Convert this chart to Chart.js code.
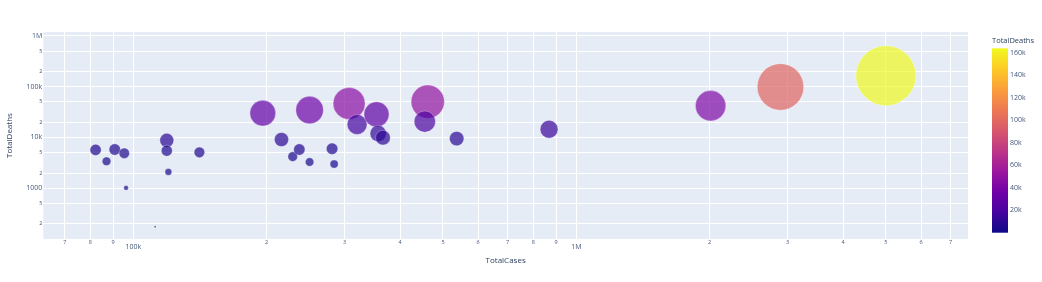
<!DOCTYPE html>
<html>
<head>
<meta charset="utf-8">
<script src="https://cdn.jsdelivr.net/npm/chart.js@4"></script>
<style>
  html, body { margin: 0; padding: 0; background: #fff; }
  canvas { display: block; }
</style>
</head>
<body>
<canvas id="chartBolhas" width="1042" height="282"></canvas>
<script>
// Dados (casos totais x mortes totais)
const totalCases = [82200, 87000, 90800, 95400, 96300, 112000, 119000, 119000, 120000, 141000,
    196000, 216000, 229000, 237000, 250000, 250000, 281000, 284000, 307000, 320000,
    354000, 357000, 366000, 462000, 455000, 537000, 868000, 2010000, 2890000, 5000000];
const totalDeaths = [5700, 3400, 5800, 4900, 1020, 175, 8800, 5500, 2100, 5100,
    30000, 9100, 4200, 5800, 34500, 3300, 6000, 3000, 46500, 18000,
    28500, 12000, 9900, 50500, 20500, 9500, 14500, 42000, 98500, 164000];

// Ticks dos eixos (valores e rótulos)
const xTickValues = [7e4, 8e4, 9e4, 1e5, 2e5, 3e5, 4e5, 5e5, 6e5, 7e5, 8e5, 9e5, 1e6, 2e6, 3e6, 4e6, 5e6, 6e6, 7e6];
const xTickLabels = ['7', '8', '9', '100k', '2', '3', '4', '5', '6', '7', '8', '9', '1M', '2', '3', '4', '5', '6', '7'];
const yTickValues = [200, 500, 1000, 2000, 5000, 1e4, 2e4, 5e4, 1e5, 2e5, 5e5, 1e6];
const yTickLabels = ['2', '5', '1000', '2', '5', '10k', '2', '5', '100k', '2', '5', '1M'];
const colorbarTicks = [20000, 40000, 60000, 80000, 100000, 120000, 140000, 160000];
const colorbarLabels = ['20k', '40k', '60k', '80k', '100k', '120k', '140k', '160k'];

const X_MIN = 62630, X_MAX = 7660000, Y_MIN = 101, Y_MAX = 1183000;
const MAX_RADIUS = 30;
const FONTE = '"Open Sans", verdana, arial, sans-serif';
const COR_TEXTO = '#2a3f5f';
const COR_TICKS = '#44577a';

// Escala de cores "plasma" (mesma do plotly)
const plasma = ['#0d0887', '#46039f', '#7201a8', '#9c179e', '#bd3786', '#d8576b', '#ed7953', '#fb9f3a', '#fdca26', '#f0f921'];
const minDeaths = Math.min(...totalDeaths), maxDeaths = Math.max(...totalDeaths);

function hexToRgb(h) {
    return [parseInt(h.slice(1, 3), 16), parseInt(h.slice(3, 5), 16), parseInt(h.slice(5, 7), 16)];
}

function corPlasma(t, alpha) {
    t = Math.max(0, Math.min(1, t));
    const pos = t * (plasma.length - 1);
    const i = Math.min(Math.floor(pos), plasma.length - 2);
    const f = pos - i;
    const a = hexToRgb(plasma[i]), b = hexToRgb(plasma[i + 1]);
    const c = a.map((v, k) => Math.round(v + (b[k] - v) * f));
    return `rgba(${c[0]}, ${c[1]}, ${c[2]}, ${alpha})`;
}

function normaliza(v) {
    return (v - minDeaths) / (maxDeaths - minDeaths);
}

// Pontos: tamanho (área) proporcional às mortes
const pontos = totalCases.map((c, i) => ({
    x: c,
    y: totalDeaths[i],
    r: MAX_RADIUS * Math.sqrt(totalDeaths[i] / maxDeaths)
}));

const isMajorX = v => v === 1e5 || v === 1e6;
const isMajorY = v => v === 1000 || v === 1e4 || v === 1e5 || v === 1e6;

// Fundo da área do gráfico
const fundoPlugin = {
    id: 'fundo',
    beforeDraw(chart) {
        const { ctx, chartArea: a } = chart;
        ctx.save();
        ctx.fillStyle = '#E5ECF6';
        ctx.fillRect(a.left, a.top, a.right - a.left, a.bottom - a.top);
        ctx.restore();
    }
};

// Barra de cores à direita
const colorbarPlugin = {
    id: 'colorbar',
    afterDraw(chart) {
        const ctx = chart.ctx;
        const x0 = 992, x1 = 1008, top = 48.3, bottom = 232.7;
        const grad = ctx.createLinearGradient(0, bottom, 0, top);
        plasma.forEach((c, i) => grad.addColorStop(i / (plasma.length - 1), c));
        ctx.save();
        ctx.fillStyle = grad;
        ctx.fillRect(x0, top, x1 - x0, bottom - top);

        ctx.fillStyle = COR_TICKS;
        ctx.font = '7px ' + FONTE;
        ctx.textBaseline = 'middle';
        ctx.textAlign = 'left';
        colorbarTicks.forEach((v, i) => {
            const y = bottom - normaliza(v) * (bottom - top);
            ctx.fillText(colorbarLabels[i], x1 + 2, y);
        });
        ctx.fillStyle = COR_TEXTO;
        ctx.font = '7.5px ' + FONTE;
        ctx.fillText('TotalDeaths', x0, 41);
        ctx.restore();
    }
};

function criarGrafico() {
    const ctx = document.getElementById('chartBolhas').getContext('2d');

    new Chart(ctx, {
        type: 'bubble',
        data: {
            datasets: [{
                label: 'TotalDeaths',
                data: pontos,
                backgroundColor: c => corPlasma(normaliza(totalDeaths[c.dataIndex]), 0.7),
                borderColor: 'rgba(255, 255, 255, 0.6)',
                borderWidth: 0.5,
                hoverBorderWidth: 0.5
            }]
        },
        options: {
            responsive: false,
            animation: false,
            layout: { padding: { left: 0, right: 74, top: 32, bottom: 0 } },
            plugins: {
                legend: { display: false },
                tooltip: { enabled: true }
            },
            scales: {
                x: {
                    type: 'logarithmic',
                    min: X_MIN,
                    max: X_MAX,
                    afterBuildTicks: s => { s.ticks = xTickValues.map(v => ({ value: v })); },
                    afterFit: s => { s.height = 43; },
                    grid: { color: '#ffffff', lineWidth: 1, drawTicks: false },
                    border: { display: false },
                    ticks: {
                        autoSkip: false,
                        maxRotation: 0,
                        padding: 0,
                        color: COR_TICKS,
                        callback: (v, i) => xTickLabels[i],
                        font: c => isMajorX(c.tick && c.tick.value)
                            ? { family: FONTE, size: 7, lineHeight: '15.4px' }
                            : { family: FONTE, size: 5.5, lineHeight: '6px' }
                    },
                    title: {
                        display: true,
                        text: 'TotalCases',
                        color: COR_TEXTO,
                        font: { family: FONTE, size: 8 },
                        padding: { top: 0, bottom: 16 }
                    }
                },
                y: {
                    type: 'logarithmic',
                    min: Y_MIN,
                    max: Y_MAX,
                    afterBuildTicks: s => { s.ticks = yTickValues.map(v => ({ value: v })); },
                    afterFit: s => { s.width = 43.3; },
                    grid: { color: '#ffffff', lineWidth: 1, drawTicks: false },
                    border: { display: false },
                    ticks: {
                        autoSkip: false,
                        padding: 1,
                        color: COR_TICKS,
                        callback: (v, i) => yTickLabels[i],
                        font: c => isMajorY(c.tick && c.tick.value)
                            ? { family: FONTE, size: 7 }
                            : { family: FONTE, size: 5.5 }
                    },
                    title: {
                        display: true,
                        text: 'TotalDeaths',
                        color: COR_TEXTO,
                        font: { family: FONTE, size: 8 },
                        padding: { top: 5, bottom: 0 }
                    }
                }
            }
        },
        plugins: [fundoPlugin, colorbarPlugin]
    });
}

window.onload = criarGrafico;
</script>
</body>
</html>
